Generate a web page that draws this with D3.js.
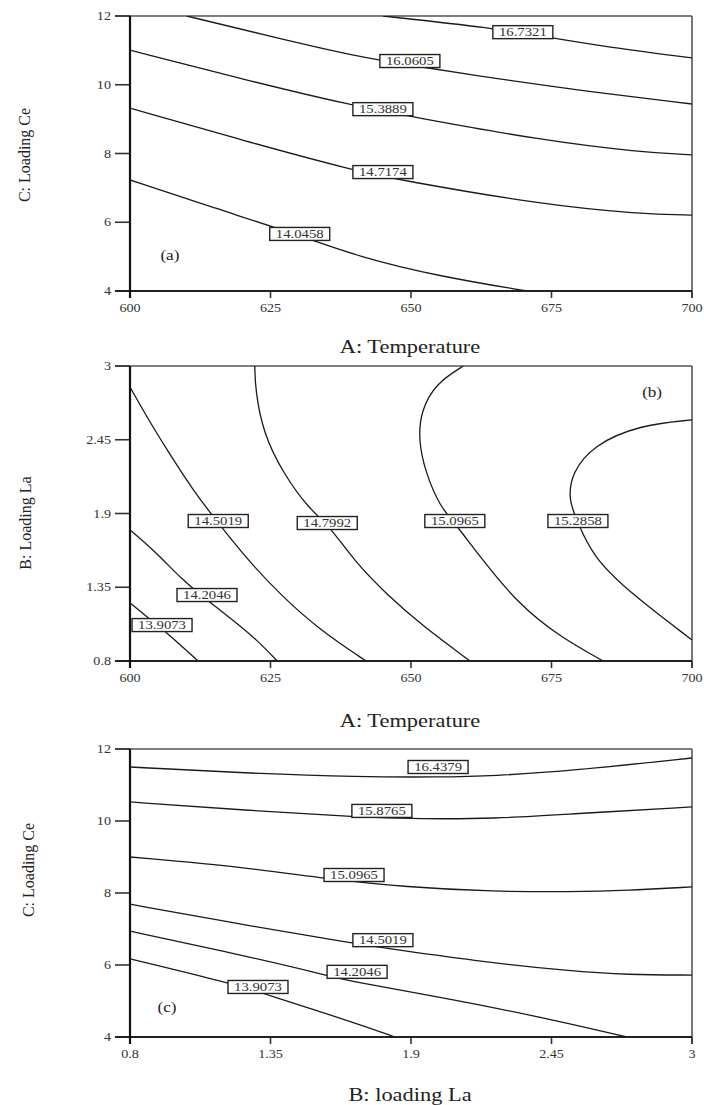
<!DOCTYPE html>
<html>
<head>
<meta charset="utf-8">
<script src="https://cdn.jsdelivr.net/npm/d3@7"></script>
<style>
  html, body { margin: 0; padding: 0; background: #fff; }
  svg { display: block; }
</style>
</head>
<body>
<svg id="chart" width="704" height="1105"></svg>
<script>
// ---------- Panel (a): A: Temperature vs C: Loading Ce ----------
const xTicksA = [600, 625, 650, 675, 700];
const yTicksA = [4, 6, 8, 10, 12];
const levelsA = ["16.7321", "16.0605", "15.3889", "14.7174", "14.0458"];
const contoursA = [
  [[645.0, 12.0], [664.6, 11.65], [675.3, 11.36], [684.9, 11.10], [700, 10.78]],
  [[610.1, 12.0], [625.4, 11.39], [640.9, 10.80], [649.8, 10.57], [661.0, 10.28], [678.8, 9.86], [700, 9.44]],
  [[600, 11.01], [620.5, 10.14], [640.0, 9.38], [650.2, 9.07], [673.0, 8.39], [690.7, 8.04], [700, 7.96]],
  [[600, 9.32], [620.5, 8.36], [640.0, 7.50], [648.0, 7.23], [673.0, 6.52], [690.7, 6.24], [700, 6.21]],
  [[600, 7.23], [615.1, 6.41], [630.2, 5.62], [640.9, 4.98], [655.2, 4.42], [670.6, 4.0]]
];
const labelPosA = [[669.9, 11.53], [649.8, 10.69], [645.0, 9.29], [645.0, 7.46], [630.2, 5.66]];

// ---------- Panel (b): A: Temperature vs B: Loading La ----------
const xTicksB = [600, 625, 650, 675, 700];
const yTicksB = [0.8, 1.35, 1.9, 2.45, 3];
const levelsB = ["13.9073", "14.2046", "14.5019", "14.7992", "15.0965", "15.2858"];
const contoursB = [
  [[600, 1.233], [604.1, 1.091], [606.6, 1.009], [612.1, 0.8]],
  [[600, 1.777], [604.8, 1.605], [609.3, 1.404], [613.7, 1.255], [618.3, 1.106], [622.6, 0.957], [626.2, 0.8]],
  [[600, 2.843], [603.0, 2.620], [606.6, 2.374], [611.2, 2.075], [615.4, 1.844], [621.4, 1.531], [627.2, 1.277], [633.8, 1.031], [642.0, 0.8]],
  [[622.2, 3.0], [622.3, 2.821], [623.7, 2.500], [627.2, 2.202], [632.0, 1.926], [635.1, 1.829], [640.0, 1.540], [645.6, 1.300], [652.1, 1.060], [660.5, 0.8]],
  [[659.3, 3.0], [654.5, 2.873], [651.8, 2.672], [651.3, 2.448], [652.6, 2.202], [655.2, 1.949], [657.8, 1.829], [662.3, 1.576], [668.9, 1.233], [676.5, 0.979], [684.2, 0.8]],
  [[700, 2.598], [690.7, 2.560], [682.4, 2.410], [678.6, 2.202], [678.0, 2.001], [679.7, 1.829], [682.4, 1.576], [689.0, 1.307], [700, 0.957]]
];
const labelPosB = [[605.7, 1.068], [613.7, 1.292], [615.7, 1.844], [635.1, 1.829], [657.8, 1.844], [679.7, 1.844]];

// ---------- Panel (c): B: loading La vs C: Loading Ce ----------
const xTicksC = [0.8, 1.35, 1.9, 2.45, 3];
const yTicksC = [4, 6, 8, 10, 12];
const levelsC = ["16.4379", "15.8765", "15.0965", "14.5019", "14.2046", "13.9073"];
const contoursC = [
  [[0.8, 11.5], [1.25, 11.33], [1.70, 11.22], [2.013, 11.22], [2.221, 11.25], [2.534, 11.40], [3.0, 11.75]],
  [[0.8, 10.53], [1.25, 10.30], [1.70, 10.10], [1.935, 10.06], [2.221, 10.06], [2.534, 10.20], [3.0, 10.39]],
  [[0.8, 9.0], [1.25, 8.72], [1.563, 8.40], [1.884, 8.16], [2.221, 8.04], [2.534, 8.03], [2.745, 8.07], [3.0, 8.17]],
  [[0.8, 7.69], [1.203, 7.17], [1.673, 6.60], [1.790, 6.48], [2.143, 6.12], [2.534, 5.82], [2.745, 5.73], [3.0, 5.72]],
  [[0.8, 6.94], [1.203, 6.33], [1.571, 5.72], [1.622, 5.60], [2.013, 5.11], [2.405, 4.56], [2.745, 4.0]],
  [[0.8, 6.17], [1.191, 5.50], [1.336, 5.18], [1.700, 4.35], [1.837, 4.0]]
];
const labelPosC = [[2.006, 11.5], [1.786, 10.28], [1.677, 8.5], [1.790, 6.69], [1.689, 5.81], [1.301, 5.39]];

const panelLetters = ["(a)", "(b)", "(c)"];
const letterPos = [[607.1, 5.05], [692.9, 2.806], [0.945, 4.83]];
const xTitles = ["A: Temperature", "A: Temperature", "B: loading La"];
const yTitles = ["C: Loading Ce", "B: Loading La", "C: Loading Ce"];

// ---------- Drawing ----------
const FONT = "'Liberation Serif', 'Times New Roman', Times, 'DejaVu Serif', serif";
const svg = d3.select("#chart");
const left = 130, right = 692;
const layouts = [
  { top: 16, bottom: 291 },
  { top: 366, bottom: 661 },
  { top: 749, bottom: 1037 }
];
const panels = [
  { xt: xTicksA, yt: yTicksA, levels: levelsA, contours: contoursA, labels: labelPosA },
  { xt: xTicksB, yt: yTicksB, levels: levelsB, contours: contoursB, labels: labelPosB },
  { xt: xTicksC, yt: yTicksC, levels: levelsC, contours: contoursC, labels: labelPosC }
];
const SX = 1.18; // horizontal stretch of the reference's text

function hText(g, x, y, str, size, anchor, color) {
  return g.append("text")
    .attr("transform", `translate(${x},${y}) scale(${SX},1)`)
    .attr("text-anchor", anchor || "middle")
    .attr("font-family", FONT)
    .attr("font-size", size)
    .attr("fill", color || "#222")
    .text(str);
}

panels.forEach((p, i) => {
  const L = layouts[i];
  const x = d3.scaleLinear().domain(d3.extent(p.xt)).range([left, right]);
  const y = d3.scaleLinear().domain(d3.extent(p.yt)).range([L.bottom, L.top]);
  const g = svg.append("g");

  const clipId = "clip" + i;
  svg.append("defs").append("clipPath").attr("id", clipId)
    .append("rect").attr("x", left).attr("y", L.top)
    .attr("width", right - left).attr("height", L.bottom - L.top);

  // frame top & right
  g.append("line").attr("x1", left - 15).attr("x2", right).attr("y1", L.top).attr("y2", L.top)
    .attr("stroke", "#555").attr("stroke-width", 1.6);
  g.append("line").attr("x1", right).attr("x2", right).attr("y1", L.top).attr("y2", L.bottom + 7)
    .attr("stroke", "#555").attr("stroke-width", 1.6);

  // y ticks
  p.yt.forEach(t => {
    g.append("line").attr("x1", left - 15).attr("x2", left).attr("y1", y(t)).attr("y2", y(t))
      .attr("stroke", "#333").attr("stroke-width", 1.6);
    hText(g, left - 19, y(t) + 4, String(t), 12, "end", "#333");
  });
  // x ticks
  p.xt.forEach(t => {
    g.append("line").attr("x1", x(t)).attr("x2", x(t)).attr("y1", L.bottom).attr("y2", L.bottom + 7)
      .attr("stroke", "#333").attr("stroke-width", 1.6);
    hText(g, x(t), L.bottom + 21, String(t), 12, "middle", "#333");
  });
  // axes
  g.append("line").attr("x1", left - 15).attr("x2", right).attr("y1", L.bottom).attr("y2", L.bottom)
    .attr("stroke", "#222").attr("stroke-width", 2);
  g.append("line").attr("x1", left).attr("x2", left).attr("y1", L.top).attr("y2", L.bottom + 7)
    .attr("stroke", "#111").attr("stroke-width", 2.2);

  // contours
  const line = d3.line().x(d => x(d[0])).y(d => y(d[1])).curve(d3.curveBasis);
  const cg = g.append("g").attr("clip-path", `url(#${clipId})`);
  p.contours.forEach(c => {
    cg.append("path").attr("d", line(c)).attr("fill", "none")
      .attr("stroke", "#1a1a1a").attr("stroke-width", 1.3);
  });

  // contour labels
  p.labels.forEach((lp, k) => {
    const cx = x(lp[0]), cy = y(lp[1]);
    g.append("rect").attr("x", cx - 30).attr("y", cy - 6.5).attr("width", 60).attr("height", 13)
      .attr("fill", "#fff").attr("stroke", "#222").attr("stroke-width", 1.4);
    hText(g, cx, cy + 4.2, p.levels[k], 12.5, "middle", "#333");
  });

  // panel letter
  const lp = letterPos[i];
  hText(g, x(lp[0]), y(lp[1]) + 5, panelLetters[i], 14.5, "middle", "#222");

  // axis titles
  const xtBase = [353, 727, 1101][i];
  hText(g, 410, xtBase, xTitles[i], 19, "middle", "#222");
  const ytX = [30, 31, 34][i];
  const ytY = [155, 523, 870][i];
  g.append("text")
    .attr("transform", `translate(${ytX},${ytY}) rotate(-90)`)
    .attr("text-anchor", "middle").attr("font-family", FONT).attr("font-size", 16).attr("fill", "#222")
    .text(yTitles[i]);
});
</script>
</body>
</html>
